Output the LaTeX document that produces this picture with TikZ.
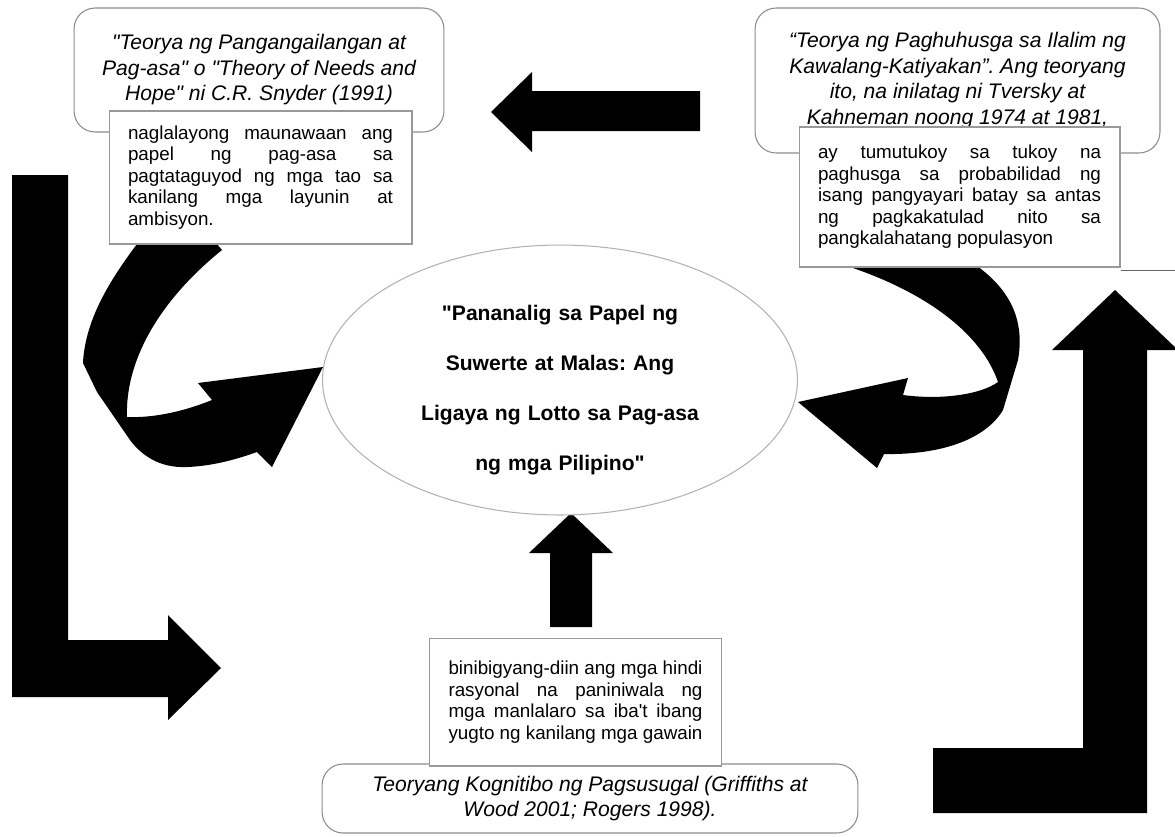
\documentclass[tikz,border=0pt]{standalone}
\usepackage{fontspec}
\setmainfont{Liberation Sans}[Ligatures=TeXOff]
\usetikzlibrary{shapes.geometric,backgrounds}
\frenchspacing

\begin{document}
\begin{tikzpicture}[x=0.02cm,y=-0.02cm,
		theory/.style={draw=black!45,line width=0.6pt,rounded corners=12pt,inner sep=0pt,align=center,font=\fontsize{12}{14.5}\selectfont\itshape},
		note/.style={draw=black!40,fill=white,line width=0.6pt,inner ysep=0pt,inner xsep=0.38cm,align=justify,font=\fontsize{10.7}{12.2}\selectfont},
		block/.style={fill=black}]
			\useasboundingbox (0,0) rectangle (1175,836);

			% the three theories
			\node[theory,minimum width=7.4cm,minimum height=2.48cm] (needs) at (259,70)
				{"Teorya ng Pangangailangan at\\Pag-asa" o "Theory of Needs and\\Hope" ni C.R. Snyder (1991)};
			\node[theory,minimum width=8.1cm,minimum height=2.9cm] (judge) at (957.5,80.5)
				{“Teorya ng Paghuhusga sa Ilalim ng\\Kawalang-Katiyakan”. Ang teoryang\\ito, na inilatag ni Tversky at\\Kahneman noong 1974 at 1981,};
			\node[theory,minimum width=10.72cm,minimum height=1.38cm] (cogn) at (590,798.5)
				{Teoryang Kognitibo ng Pagsusugal (Griffiths at\\Wood 2001; Rogers 1998).};

			% explanations
			\node[note,text width=5.3cm,minimum height=2.66cm] (needsnote) at (260.5,177.5)
				{naglalayong maunawaan ang\linebreak papel ng pag-asa sa\linebreak pagtataguyod ng mga tao sa\linebreak kanilang mga layunin at\linebreak ambisyon.};
			\node[note,text width=5.66cm,minimum height=2.8cm] (judgenote) at (959.5,197)
				{ay tumutukoy sa tukoy na\linebreak paghusga sa probabilidad ng\linebreak isang pangyayari batay sa antas\linebreak ng pagkakatulad nito sa\linebreak pangkalahatang populasyon};
			\node[note,text width=5.08cm,minimum height=2.56cm] (cognnote) at (575.5,702)
				{binibigyang-diin ang mga hindi\linebreak rasyonal na paniniwala ng\linebreak mga manlalaro sa iba't ibang\linebreak yugto ng kanilang mga gawain};
			\draw[black!60,line width=0.6pt] ([yshift=-0.06cm]judgenote.south east) -- ++(60,0);

			% topic
			\node[ellipse,draw=black!30,fill=white,line width=0.6pt,inner sep=0pt,minimum width=9.5cm,minimum height=5.4cm,
				text width=5.8cm,text height=20pt,align=center,font=\fontsize{12}{28.5}\selectfont\bfseries] (topic) at (560,380)
				{"Pananalig sa Papel ng\\Suwerte at Malas: Ang\\Ligaya ng Lotto sa Pag-asa\\ng mga Pilipino"};

			\begin{scope}[on background layer]
				% straight block arrows
				\fill[block] (700,91) -- (532,91) -- (532,72) -- (491,112) -- (532,152) -- (532,131) -- (700,131) -- cycle;
				\fill[block] (12,175) -- (68,175) -- (68,640) -- (168,640) -- (168,615) -- (221,668) -- (168,720) -- (168,697) -- (12,697) -- cycle;
				\fill[block] (933,748) -- (1083,748) -- (1083,350) -- (1052,350) -- (1115,290) -- (1178,350) -- (1147,350) -- (1147,813) -- (933,813) -- cycle;
				\fill[block] (550,627) -- (550,553) -- (529,553) -- (571,513) -- (613,553) -- (592,553) -- (592,627) -- cycle;
				% curved block arrows
				\fill[block] (137,238) -- (137,244) .. controls (110,280) and (85,320) .. (83,363) -- (97,392) -- (130,440)
					.. controls (145,460) and (165,468) .. (187,467) .. controls (215,466) and (240,458) .. (257,452)
					-- (272,467) -- (323,367) -- (198,383) -- (212,400)
					.. controls (180,413) and (150,418) .. (127,417) .. controls (125,360) and (160,300) .. (222,250) -- (212,238) -- cycle;
				\fill[block] (847,260) -- (847,266) .. controls (920,290) and (980,330) .. (998,382)
					.. controls (980,395) and (940,400) .. (903,395) -- (908,378) -- (798,402) -- (877,468) -- (884,454)
					.. controls (940,455) and (985,440) .. (1003,410) -- (1018,360)
					.. controls (1025,320) and (1010,290) .. (977,266) -- (977,260) -- cycle;
			\end{scope}
		\end{tikzpicture}
\end{document}
